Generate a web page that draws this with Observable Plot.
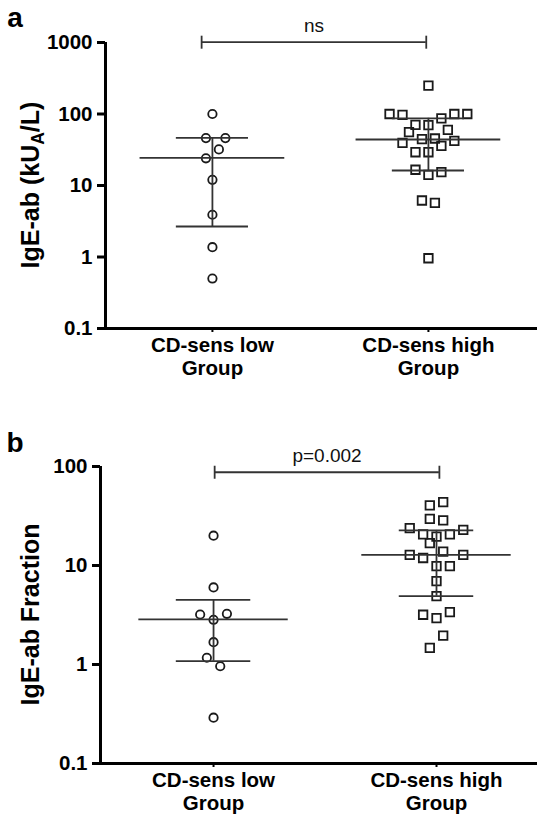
<!DOCTYPE html>
<html><head><meta charset="utf-8">
<script src="https://cdn.jsdelivr.net/npm/d3@7"></script>
<script src="https://cdn.jsdelivr.net/npm/@observablehq/plot@0.6"></script>
<style>
body{margin:0;background:#fff;font-family:"Liberation Sans",Arial,sans-serif;}
#wrap{position:relative;width:547px;height:821px;background:#fff;}
#wrap svg{position:absolute;left:0;display:block;}
</style></head><body>
<div id="wrap"></div>
<script>
// ---- categories / labels ----
const groups = ["CD-sens low", "CD-sens high"];
const groupLine2 = "Group";
const ticksA = [0.1, 1, 10, 100, 1000];
const ticksB = [0.1, 1, 10, 100];

// ---- panel a values (IgE-ab, kUA/L) ----
const aLow = [100, 46, 46, 32, 24, 12, 3.9, 1.37, 0.5];
const aLowSlot = [0, -1, 2, 1, -1, 0, 0, 0, 0];
const aHigh = [250, 100, 97, 100, 100, 87, 70.6, 70, 60, 55.7, 44.5, 45.4, 42.2, 39.5, 35.9, 29.2, 29.2, 16.6, 15.4, 14.1, 6.17, 5.73, 0.96];
const aHighSlot = [0, -6, -4, 4, 6, 2, -2, 0, 3, -3, -1, 1, 4, -4, 2, -2, 0, -2, 2, 0, -1, 1, 0];
const aCenter = [24.4, 44];
const aLo = [2.67, 16.2];
const aHi = [46.4, 87];
const aBracket = {x1: -0.05, x2: 0.99, y: 1010, label: "ns"};

// ---- panel b values (IgE-ab Fraction) ----
const bLow = [20, 6, 3.2, 3.25, 2.83, 1.68, 1.17, 0.96, 0.29];
const bLowSlot = [0, 0, -2, 2, 0, 0, -1, 1, 0];
const bHigh = [43.6, 40.4, 29.6, 28.5, 23.8, 22.9, 20.6, 19.6, 20.6, 16.8, 13.8, 12.8, 11.9, 12.8, 9.84, 9.84, 6.95, 4.9, 3.18, 2.94, 3.38, 1.96, 1.47];
const bHighSlot = [1, -1, -1, 1, -4, 4, -2, 0, 2, -1, 1, -4, -2, 4, 0, 2, 0, 0, -2, 0, 2, 1, -1];
const bCenter = [2.85, 12.8];
const bLo = [1.08, 4.9];
const bHi = [4.5, 22.6];
const bBracket = {x1: 0.005, x2: 1.013, y: 87.5, label: "p=0.002"};

const FONT = "Liberation Sans, Arial, Helvetica, sans-serif";
const SLOT = 0.03;
const vbar = {draw(ctx) { ctx.moveTo(0, -6.5); ctx.lineTo(0, 6.5); }};

function panel(o) {
  const pts0 = o.low.map((v, i) => ({v, x: 0 + o.lowSlot[i] * SLOT}));
  const pts1 = o.high.map((v, i) => ({v, x: 1 + o.highSlot[i] * SLOT}));
  const summ = o.center.map((c, g) => ({g, c, lo: o.lo[g], hi: o.hi[g]}));
  const br = [o.bracket];
  const brEnds = [{x: o.bracket.x1, y: o.bracket.y}, {x: o.bracket.x2, y: o.bracket.y}];
  const svg = Plot.plot({
    width: 547, height: o.height,
    marginLeft: o.marginLeft, marginRight: 10, marginTop: o.marginTop, marginBottom: o.marginBottom,
    style: {fontFamily: FONT, fontSize: "20px", fontWeight: "bold", color: "#000", background: "transparent", overflow: "visible"},
    x: {type: "linear", domain: o.xDomain, axis: null},
    y: {type: "log", domain: o.yDomain, axis: null},
    marks: [
      Plot.axisY({ticks: o.yTicks, tickFormat: d => String(d), tickSize: 8, tickPadding: 5, strokeWidth: 3, label: null, fontSize: 20.5, fontWeight: "bold"}),
      Plot.axisX({ticks: [0, 1], tickFormat: i => groups[i] + "\n" + groupLine2, tickSize: 4, tickPadding: 3, strokeWidth: 2, label: null, fontSize: 20.5, fontWeight: "bold", lineHeight: 1.12}),
      Plot.ruleX([o.xDomain[0]], {stroke: "#000", strokeWidth: 3}),
      Plot.ruleY([o.yDomain[0]], {stroke: "#000", strokeWidth: 3}),
      // points
      Plot.dot(pts0, {x: "x", y: "v", r: 4.2, symbol: "circle", stroke: "#1a1a1a", strokeWidth: 1.8, fill: "none"}),
      Plot.dot(pts1, {x: "x", y: "v", r: 4.8, symbol: "square", stroke: "#1a1a1a", strokeWidth: 1.8, fill: "none"}),
      // mean + error bars
      Plot.ruleX(summ, {x: "g", y1: "lo", y2: "hi", stroke: "#333", strokeWidth: 1.8}),
      Plot.ruleY(summ, {y: "c", x1: d => d.g - 0.335, x2: d => d.g + 0.335, stroke: "#333", strokeWidth: 1.8}),
      Plot.ruleY(summ, {y: "lo", x1: d => d.g - 0.167, x2: d => d.g + 0.167, stroke: "#333", strokeWidth: 1.8}),
      Plot.ruleY(summ, {y: "hi", x1: d => d.g - 0.167, x2: d => d.g + 0.167, stroke: "#333", strokeWidth: 1.8}),
      // significance bracket
      Plot.ruleY(br, {y: "y", x1: "x1", x2: "x2", stroke: "#333", strokeWidth: 1.8}),
      Plot.dot(brEnds, {x: "x", y: "y", symbol: vbar, stroke: "#333", strokeWidth: 1.8, fill: "none"}),
      Plot.text(br, {x: d => (d.x1 + d.x2) / 2, y: "y", text: "label", dy: -16, fontSize: 19, fontWeight: "normal", fill: "#111"})
    ]
  });
  const s = d3.select(svg);
  // y title with subscript
  const t = s.append("text")
    .attr("transform", `translate(${o.titleX},${o.titleY}) rotate(-90)`)
    .attr("text-anchor", "middle").attr("font-size", 25).attr("font-weight", "bold")
    .attr("font-family", FONT).attr("fill", "#000");
  o.title.forEach(part => {
    const ts = t.append("tspan").text(part.t);
    if (part.sub) ts.attr("font-size", 17.5).attr("dy", 5);
    if (part.after) ts.attr("dy", -5);
  });
  // panel letter
  s.append("text").attr("x", 15).attr("y", o.letterY).attr("font-size", 28).attr("font-weight", "bold")
    .attr("font-family", FONT).attr("fill", "#000").text(o.letter);
  svg.style.top = o.top + "px";
  return svg;
}

const wrap = document.getElementById("wrap");
wrap.appendChild(panel({
  top: 0, height: 390, marginLeft: 105, marginTop: 42, marginBottom: 62,
  xDomain: [-0.495, 1.505], yDomain: [0.1, 1000], yTicks: ticksA,
  low: aLow, lowSlot: aLowSlot, high: aHigh, highSlot: aHighSlot,
  center: aCenter, lo: aLo, hi: aHi, bracket: aBracket,
  title: [{t: "IgE-ab (kU"}, {t: "A", sub: true}, {t: "/L)", after: true}],
  titleX: 39, titleY: 185, letter: "a", letterY: 27
}));
wrap.appendChild(panel({
  top: 390, height: 431, marginLeft: 100, marginTop: 76, marginBottom: 58,
  xDomain: [-0.507, 1.453], yDomain: [0.1, 100], yTicks: ticksB,
  low: bLow, lowSlot: bLowSlot, high: bHigh, highSlot: bHighSlot,
  center: bCenter, lo: bLo, hi: bHi, bracket: bBracket,
  title: [{t: "IgE-ab Fraction"}],
  titleX: 39, titleY: 224.5, letter: "b", letterY: 62
}));
</script>
</body></html>
